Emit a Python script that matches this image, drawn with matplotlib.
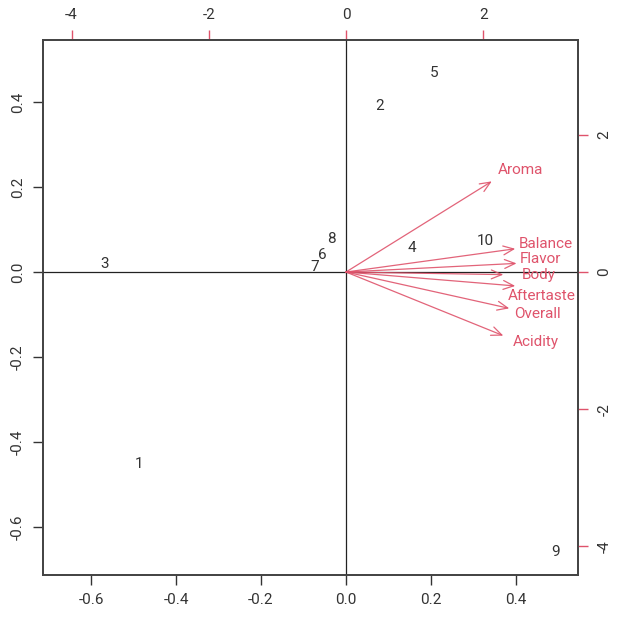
import matplotlib
matplotlib.use("Agg")
import matplotlib.pyplot as plt
import numpy as np

plt.rcParams['font.family'] = ['Roboto', 'DejaVu Sans']

# Observation scores (bottom/left axes)
obs_labels = ["1", "2", "3", "4", "5", "6", "7", "8", "9", "10"]
obs_x = [-0.487, 0.078, -0.567, 0.155, 0.207, -0.056, -0.073, -0.035, 0.494, 0.329]
obs_y = [-0.452, 0.391, 0.019, 0.056, 0.468, 0.040, 0.012, 0.078, -0.659, 0.073]

# Variable loadings (top/right axes), arrow tips
var_labels = ["Aroma", "Balance", "Flavor", "Body", "Aftertaste", "Overall", "Acidity"]
var_x = [2.126, 2.468, 2.487, 2.294, 2.468, 2.381, 2.294]
var_y = [1.322, 0.339, 0.126, -0.038, -0.203, -0.530, -0.928]
# label positions (top/right units)
lab_x = [2.55, 2.91, 2.84, 2.81, 2.85, 2.79, 2.77]
lab_y = [1.49, 0.41, 0.194, -0.038, -0.348, -0.613, -1.014]

red = "#DF536B"
dark = "#333333"
fs = 11

fig = plt.figure(figsize=(6.33, 6.17), dpi=100)
ax = fig.add_axes([43/633, 1-575/617, 535/633, 535/617])
lim = (-0.713, 0.546)
ax.set_xlim(*lim)
ax.set_ylim(*lim)
ratio = 425/68.6

for t, x, y in zip(obs_labels, obs_x, obs_y):
    ax.text(x, y, t, ha='center', va='center', fontsize=fs, color=dark)

axt = ax.twiny()
axt.set_xlim(lim[0]*ratio, lim[1]*ratio)
axr = axt.twinx()
axr.set_ylim(lim[0]*ratio, lim[1]*ratio)

axr.axhline(0, color='#222222', lw=0.9)
axr.axvline(0, color='#222222', lw=0.9)

for x, y in zip(var_x, var_y):
    axr.annotate("", xy=(x, y), xytext=(0, 0),
                 arrowprops=dict(arrowstyle='->,head_length=0.75,head_width=0.32',
                                 color=red, lw=0.9, alpha=0.9, shrinkA=0, shrinkB=0))
for t, x, y in zip(var_labels, lab_x, lab_y):
    axr.text(x, y, t, ha='center', va='center', fontsize=fs, color=red)

# Axes styling
for a in (ax, axt, axr):
    for s in a.spines.values():
        s.set_color('#444444')
        s.set_linewidth(1.1)

ax.set_xticks([-0.6, -0.4, -0.2, 0.0, 0.2, 0.4])
ax.set_xticklabels(["-0.6", "-0.4", "-0.2", "0.0", "0.2", "0.4"])
ax.set_yticks([-0.6, -0.4, -0.2, 0.0, 0.2, 0.4])
ax.set_yticklabels(["-0.6", "-0.4", "-0.2", "0.0", "0.2", "0.4"], rotation=90, va='center')
ax.tick_params(axis='both', length=7, width=1, color='#333333', labelsize=fs,
               labelcolor=dark, pad=6)

axt.set_xticks([-4, -2, 0, 2])
axt.set_xticklabels(["-4", "-2", "0", "2"])
axt.tick_params(axis='x', length=7, width=1, color=red, labelsize=fs, labelcolor=dark, pad=6)
axr.set_yticks([-4, -2, 0, 2])
axr.set_yticklabels(["-4", "-2", "0", "2"], rotation=90, va='center')
axr.tick_params(axis='y', length=7, width=1, color=red, labelsize=fs, labelcolor=dark, pad=7)
axr.tick_params(axis='x', top=False, labeltop=False, bottom=False, labelbottom=False)

fig.savefig("out.png", dpi=100)
